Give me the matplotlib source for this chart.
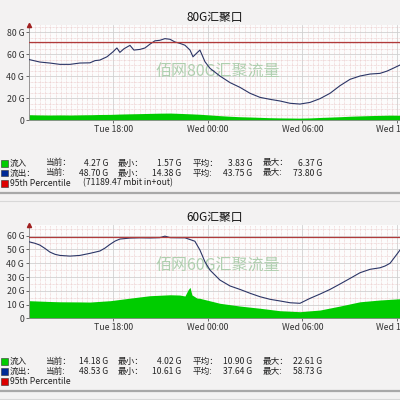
import matplotlib
matplotlib.use("Agg")
import matplotlib.pyplot as plt
from matplotlib.ticker import MultipleLocator

plt.rcParams["font.family"] = ["Noto Sans CJK SC", "DejaVu Sans"]

# hours since Tue 00:00
t_out80 = [12.64, 13.33, 13.97, 14.60, 15.24, 15.87, 16.51, 16.83, 17.14, 17.59, 17.97, 18.22,
           18.41, 18.67, 19.05, 19.30, 19.68, 20.00, 20.32, 20.63, 20.95, 21.27, 21.59, 21.90,
           22.22, 22.54, 22.86, 23.05, 23.37, 23.49, 23.81, 24.13, 24.76, 25.40, 26.03, 26.67,
           27.30, 27.94, 28.57, 29.21, 29.84, 30.48, 31.11, 31.75, 32.38, 33.02, 33.65, 34.29,
           34.92, 35.37, 35.75, 36.19]
out80 = [55.0, 52.7, 51.8, 50.6, 50.6, 51.8, 52.0, 54.0, 54.5, 57.5, 62.0, 65.5,
         61.5, 64.8, 67.9, 63.6, 64.2, 65.5, 69.0, 72.0, 72.5, 74.0, 73.4, 71.0,
         69.7, 68.0, 63.6, 57.5, 62.0, 63.6, 53.0, 47.0, 40.0, 34.0, 29.7, 24.3,
         20.6, 18.8, 17.3, 15.2, 14.5, 16.0, 19.4, 24.3, 31.2, 37.0, 40.0, 41.8,
         42.4, 44.5, 47.0, 50.0]
t_in80 = [12.64, 13.3, 14.0, 14.6, 15.3, 16.0, 16.6, 17.1, 17.8, 18.4, 19.0, 19.7, 20.3,
          20.9, 21.6, 22.2, 22.9, 23.5, 24.1, 24.8, 25.4, 26.0, 26.7, 27.3, 27.9, 28.6,
          29.2, 29.8, 30.5, 31.1, 31.7, 32.4, 33.0, 33.6, 34.3, 34.9, 35.6, 36.19]
in80 = [4.8, 4.6, 4.5, 4.6, 4.5, 4.7, 4.8, 5.0, 5.1, 5.4, 5.6, 5.8, 6.0,
        6.2, 6.3, 6.0, 5.6, 5.2, 4.6, 3.9, 3.4, 3.0, 2.7, 2.4, 2.1, 1.9,
        1.8, 1.7, 1.9, 2.3, 2.6, 3.0, 3.4, 3.7, 4.0, 4.2, 4.4, 4.3]
p95_80 = 71.19

t_out60 = [12.64, 13.02, 13.33, 13.65, 13.97, 14.29, 14.60, 15.24, 15.87, 16.51, 17.14, 17.46,
           17.78, 18.10, 18.41, 19.05, 19.68, 20.32, 20.95, 21.27, 21.59, 22.22, 22.54, 23.17,
           23.49, 23.81, 24.13, 24.76, 25.40, 26.03, 26.67, 27.30, 27.94, 28.57, 29.21, 29.84,
           30.48, 31.11, 31.75, 32.38, 33.02, 33.65, 34.29, 34.92, 35.24, 35.56, 35.87, 36.19]
out60 = [55.6, 54.5, 53.2, 50.8, 48.1, 46.5, 45.7, 45.2, 45.7, 47.2, 48.9, 51.0,
         53.7, 56.1, 57.6, 58.3, 58.5, 58.4, 58.6, 59.7, 58.6, 58.5, 58.5, 56.0,
         49.6, 41.0, 35.0, 27.8, 23.5, 21.0, 18.2, 15.7, 13.8, 12.6, 11.3, 10.9,
         14.5, 17.6, 21.0, 24.9, 29.0, 33.1, 35.6, 36.7, 38.0, 40.0, 44.7, 49.6]
t_in60 = [12.64, 14.0, 14.6, 15.9, 16.5, 17.8, 19.1, 20.3, 21.6, 22.2, 22.54, 22.73, 22.86,
          22.98, 23.30, 23.49, 24.76, 26.03, 27.30, 28.57, 29.84, 31.11, 32.38, 33.65,
          34.92, 36.19]
in60 = [12.8, 12.2, 12.0, 11.9, 11.8, 12.8, 14.7, 16.4, 17.1, 16.9, 16.2, 20.5, 22.5,
        17.0, 14.7, 14.5, 10.9, 8.9, 7.3, 5.5, 4.8, 6.0, 8.9, 12.0, 13.3, 14.2]
p95_60 = 58.8

xticks = [18, 24, 30, 36]
xlabels = ["Tue 18:00", "Wed 00:00", "Wed 06:00", "Wed 12:00"]

legend80 = [
    ("#00cc00", "流入", "当前：", "4.27 G", "最小：", "1.57 G", "平均：", "3.83 G", "最大：", "6.37 G"),
    ("#002a97", "流出：", "当前:", "48.70 G", "最小：", "14.38 G", "平均:", "43.75 G", "最大:", "73.80 G"),
]
legend60 = [
    ("#00cc00", "流入", "当前：", "14.18 G", "最小：", "4.02 G", "平均：", "10.90 G", "最大：", "22.61 G"),
    ("#002a97", "流出：", "当前:", "48.53 G", "最小：", "10.61 G", "平均:", "37.64 G", "最大:", "58.73 G"),
]

BG = "#f3f2f2"
W, H = 400.0, 400.0


def fx(px):
    return px / W


def fy(py):
    return 1 - py / H


def draw_panel(fig, top, bottom, ymax, step, t_in, v_in, t_out, v_out, p95,
               title, mark, mark_y, legend, note):
    ax = fig.add_axes([fx(29), fy(bottom), 1 - fx(29), (bottom - top) / H])
    ax.set_facecolor("#fcfcfc")
    ax.fill_between(t_in, v_in, 0, color="#00cc00", lw=0, zorder=2)
    ax.plot(t_out, v_out, color="#2b3566", lw=0.8, zorder=3)
    ax.axhline(p95, color="#b03a3a", lw=0.9, zorder=4)
    ax.set_xlim(12.64, 36.19)
    ax.set_ylim(0, ymax)
    ax.set_xticks(xticks)
    ax.set_xticklabels(xlabels)
    ax.yaxis.set_major_locator(MultipleLocator(step))
    ax.set_yticklabels([("0" if v == 0 else "%d G" % v) for v in ax.get_yticks()])
    ax.xaxis.set_minor_locator(MultipleLocator(1 / 3))
    ax.yaxis.set_minor_locator(MultipleLocator(5))
    ax.grid(which="minor", color="#e8c4c4", lw=0.5, ls=(0, (1, 1)))
    ax.grid(which="major", color="#d0d0d0", lw=0.6)
    ax.set_axisbelow(True)
    ax.tick_params(labelsize=6.3, length=2, width=0.5, colors="#333333", pad=1.5)
    ax.tick_params(which="minor", length=0)
    for s in ["top", "right"]:
        ax.spines[s].set_visible(False)
    for s in ["left", "bottom"]:
        ax.spines[s].set_color("#888888")
        ax.spines[s].set_linewidth(0.6)
    ax.plot([12.64], [ymax], marker="^", ms=3, color="#a02020", clip_on=False, zorder=5)
    # faint watermark behind the data
    ax.text(fx(218), fy(mark_y), mark, transform=fig.transFigure, ha="center", va="center",
            fontsize=11.5, color="#afcfaf", zorder=1)
    fig.text(fx(215), fy(top - 8), title, ha="center", va="center", fontsize=8.5, color="#111111")

    ly = bottom + 43
    cols = [(10, "left"), (45, "left"), (108, "right"), (118, "left"), (181, "right"),
            (193, "left"), (252, "right"), (263, "left"), (322, "right")]
    rows = legend + [("#dd0000", "95th Percentile", note)]
    for i, row in enumerate(rows):
        y = ly + i * 10
        fig.patches.append(plt.Rectangle((fx(1), fy(y + 3.5)), 6.5 / W, 7 / H,
                                         transform=fig.transFigure, facecolor=row[0],
                                         edgecolor="#333333", lw=0.4))
        if i < 2:
            for (cx, ha), txt in zip(cols, row[1:]):
                fig.text(fx(cx), fy(y), txt, ha=ha, va="center", fontsize=6.2, color="#222222")
        else:
            fig.text(fx(10), fy(y), row[1], ha="left", va="center", fontsize=6.2, color="#222222")
            if row[2]:
                fig.text(fx(83), fy(y), row[2], ha="left", va="center", fontsize=6.2, color="#222222")
    sep = ly + 30
    fig.add_artist(plt.Line2D([0, 1], [fy(sep), fy(sep)], color="#a8a8a8", lw=1.6))
    fig.add_artist(plt.Line2D([0, 1], [fy(sep + 8), fy(sep + 8)], color="#d8d8d8", lw=0.8))
    return ax


fig = plt.figure(figsize=(4, 4), dpi=100, facecolor=BG)
draw_panel(fig, 25, 120, 86.4, 20, t_in80, in80, t_out80, out80, p95_80,
           "80G汇聚口", "佰网80G汇聚流量", 72, legend80, "(71189.47 mbit in+out)")
draw_panel(fig, 225, 318.3, 67.8, 10, t_in60, in60, t_out60, out60, p95_60,
           "60G汇聚口", "佰网60G汇聚流量", 266.5, legend60, "")
fig.savefig("out.png", dpi=100, facecolor=BG)
